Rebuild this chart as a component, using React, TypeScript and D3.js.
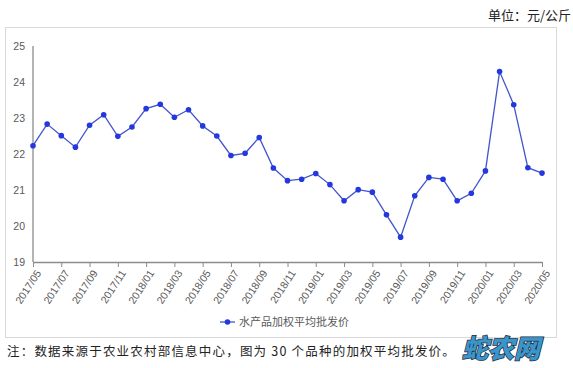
import React, { useRef, useEffect } from 'react';
import * as d3 from 'd3';

const months: string[] = [];
for (let y = 2017, m = 5; y < 2020 || (y === 2020 && m <= 5); ) {
  months.push(`${y}/${String(m).padStart(2, '0')}`);
  m++;
  if (m > 12) { m = 1; y++; }
}

const prices = [
  22.23, 22.83, 22.51, 22.19, 22.8, 23.09, 22.49, 22.75, 23.26, 23.38, 23.02, 23.23,
  22.78, 22.5, 21.96, 22.02, 22.46, 21.61, 21.26, 21.3, 21.46, 21.15, 20.7, 21.01,
  20.94, 20.31, 19.69, 20.84, 21.35, 21.3, 20.7, 20.91, 21.53, 24.29, 23.37, 21.62, 21.47,
];
const yTicks = [19, 20, 21, 22, 23, 24, 25];
const seriesName = '水产品加权平均批发价';

const App: React.FC = () => {
  const svgRef = useRef<SVGSVGElement | null>(null);

  useEffect(() => {
    const svg = d3.select(svgRef.current!);
    svg.selectAll('*').remove();
    const font = '"Noto Sans CJK SC", "Noto Sans", sans-serif';
    const latin = '"Liberation Sans", "DejaVu Sans", sans-serif';

    const x = d3.scalePoint<string>().domain(months).range([33, 542]);
    const y = d3.scaleLinear().domain([19, 25]).range([262, 46]);

    svg.append('rect')
      .attr('x', 5.5).attr('y', 27.5).attr('width', 551).attr('height', 310)
      .attr('fill', '#fff').attr('stroke', '#d9d9d9');

    svg.append('text')
      .attr('x', 571).attr('y', 20).attr('text-anchor', 'end')
      .attr('font-family', font).attr('font-size', 13).attr('fill', '#222')
      .text('单位：元/公斤');

    // y axis
    svg.append('line')
      .attr('x1', 33).attr('x2', 33).attr('y1', y(25)).attr('y2', y(19))
      .attr('stroke', '#8c8c8c').attr('stroke-width', 1.3);
    svg.append('g').selectAll('text').data(yTicks).enter().append('text')
      .attr('x', 25).attr('y', (d) => y(d)).attr('dy', '0.35em').attr('text-anchor', 'end')
      .attr('font-family', latin).attr('font-size', 10.5).attr('fill', '#595959')
      .text((d) => d);

    // x axis
    const xAxis = d3.axisBottom(x)
      .tickValues(months.filter((_, i) => i % 2 === 0))
      .tickSize(5).tickSizeOuter(0);
    const gx = svg.append('g').attr('transform', `translate(0,${y(19)})`).call(xAxis);
    gx.select('.domain').attr('stroke', '#8c8c8c').attr('stroke-width', 1.3);
    gx.selectAll('.tick line').attr('stroke', '#8c8c8c');
    gx.selectAll('.tick text')
      .attr('font-family', latin).attr('font-size', 10.5).attr('fill', '#595959')
      .attr('text-anchor', 'end')
      .attr('transform', 'translate(5,9) rotate(-57)')
      .attr('dy', '0.35em').attr('y', 0).attr('x', 0);

    const line = d3.line<number>()
      .x((_, i) => x(months[i])!)
      .y((d) => y(d));
    svg.append('path').datum(prices)
      .attr('d', line).attr('fill', 'none')
      .attr('stroke', '#4455cc').attr('stroke-width', 1.3);
    svg.append('g').selectAll('circle').data(prices).enter().append('circle')
      .attr('cx', (_, i) => x(months[i])!).attr('cy', (d) => y(d))
      .attr('r', 2.8).attr('fill', '#2438dd');

    // legend
    const lg = svg.append('g').attr('transform', 'translate(220,322)');
    lg.append('line').attr('x1', 0).attr('x2', 15).attr('y1', 0).attr('y2', 0)
      .attr('stroke', '#4455cc').attr('stroke-width', 1.3);
    lg.append('circle').attr('cx', 7.5).attr('cy', 0).attr('r', 2.8).attr('fill', '#2438dd');
    lg.append('text').attr('x', 19).attr('y', 4)
      .attr('font-family', font).attr('font-size', 11).attr('fill', '#595959')
      .text(seriesName);

    svg.append('text')
      .attr('x', 7).attr('y', 356)
      .attr('font-family', font).attr('font-size', 12.5).attr('fill', '#222')
      .attr('letter-spacing', 1.2)
      .text('注：数据来源于农业农村部信息中心，图为 30 个品种的加权平均批发价。');

    svg.append('text')
      .attr('x', 462).attr('y', 358)
      .attr('font-family', font).attr('font-size', 26).attr('font-weight', 900)
      .attr('font-style', 'italic')
      .attr('fill', '#3b95c9').attr('stroke', '#1c2b40').attr('stroke-width', 1.5)
      .attr('paint-order', 'stroke')
      .text('蛇农网');
  }, []);

  return (
    <svg ref={svgRef} width={573} height={368}
      style={{ position: 'absolute', left: 0, top: 0, background: '#fff' }} />
  );
};

export default App;
